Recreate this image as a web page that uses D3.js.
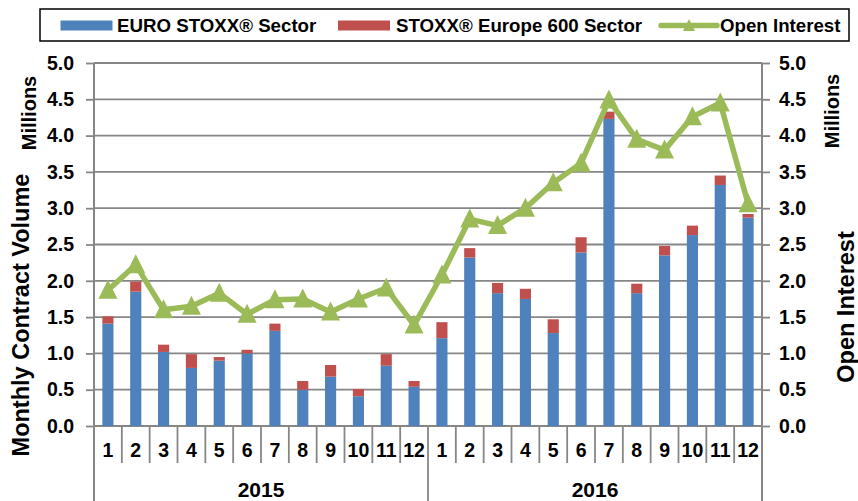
<!DOCTYPE html>
<html>
<head>
<meta charset="utf-8">
<script src="https://cdn.jsdelivr.net/npm/d3@7"></script>
<style>
  body { margin: 0; background: #fff; }
  text { font-family: "Liberation Sans", Arial, sans-serif; font-weight: bold; fill: #000; }
</style>
</head>
<body>
<svg id="chart" width="858" height="501"></svg>
<script>
const years = ["2015", "2016"];
const months = ["1","2","3","4","5","6","7","8","9","10","11","12"];
// millions of contracts
const euroStoxx = [1.41, 1.85, 1.02, 0.80, 0.90, 1.00, 1.31, 0.50, 0.68, 0.41, 0.83, 0.54,
                   1.21, 2.32, 1.83, 1.75, 1.28, 2.39, 4.23, 1.83, 2.35, 2.63, 3.32, 2.87];
const stoxx600 = [0.10, 0.14, 0.10, 0.19, 0.05, 0.05, 0.10, 0.12, 0.16, 0.10, 0.16, 0.08,
                  0.22, 0.13, 0.14, 0.14, 0.19, 0.21, 0.10, 0.13, 0.13, 0.13, 0.13, 0.05];
const openInterest = [1.87, 2.22, 1.60, 1.65, 1.83, 1.54, 1.74, 1.75, 1.57, 1.75, 1.90, 1.39,
                      2.08, 2.85, 2.76, 3.00, 3.35, 3.62, 4.49, 3.95, 3.80, 4.26, 4.45, 3.06];
const yTicks = [0, 0.5, 1, 1.5, 2, 2.5, 3, 3.5, 4, 4.5, 5];

const blue = "#4f81bd", red = "#c0504d", green = "#9bbb59", grey = "#868686";

const svg = d3.select("#chart");
const pl = 94, pr = 762, pt = 63, pb = 426;

const keys = [];
years.forEach(y => months.forEach(m => keys.push(y + "-" + m)));

const x = d3.scaleBand().domain(keys).range([pl, pr]).paddingInner(0.6).paddingOuter(0.3);
const step = (pr - pl) / keys.length;
const y = d3.scaleLinear().domain([0, 5]).range([pb, pt]);
const y2 = d3.scaleLinear().domain([0, 5]).range([pb, pt]);

// gridlines
svg.append("g")
  .selectAll("line")
  .data(yTicks.slice(1))
  .join("line")
  .attr("x1", pl).attr("x2", pr)
  .attr("y1", d => y(d)).attr("y2", d => y(d))
  .attr("stroke", grey).attr("stroke-width", 1.8);

// axes
const ga = svg.append("g")
  .attr("transform", `translate(${pl},0)`)
  .call(d3.axisLeft(y).tickValues(yTicks).tickFormat(d3.format(".1f")).tickSize(8).tickPadding(12).tickSizeOuter(0));
ga.select(".domain").remove();
ga.selectAll("line").attr("stroke", grey).attr("stroke-width", 1.8);
ga.selectAll("text").style("font-size", "19.5px");

const gb = svg.append("g")
  .attr("transform", `translate(${pr},0)`)
  .call(d3.axisRight(y2).tickValues(yTicks).tickFormat(d3.format(".1f")).tickSize(8).tickPadding(9).tickSizeOuter(0));
gb.select(".domain").remove();
gb.selectAll("line").attr("stroke", grey).attr("stroke-width", 1.8);
gb.selectAll("text").style("font-size", "19.5px");

svg.append("line").attr("x1", pl).attr("x2", pl).attr("y1", pt).attr("y2", 501)
  .attr("stroke", grey).attr("stroke-width", 2);
svg.append("line").attr("x1", pr).attr("x2", pr).attr("y1", pt).attr("y2", 501)
  .attr("stroke", grey).attr("stroke-width", 2);
svg.append("line").attr("x1", pl).attr("x2", pr).attr("y1", pb).attr("y2", pb)
  .attr("stroke", grey).attr("stroke-width", 2);

// category separators
svg.append("g")
  .selectAll("line")
  .data(keys.slice(1))
  .join("line")
  .attr("x1", d => x(d) - (step - x.bandwidth()) / 2)
  .attr("x2", d => x(d) - (step - x.bandwidth()) / 2)
  .attr("y1", pb)
  .attr("y2", (d, i) => (i + 1) % 12 === 0 ? 501 : 463)
  .attr("stroke", grey).attr("stroke-width", 1.8);

// month labels
svg.append("g")
  .selectAll("text")
  .data(keys)
  .join("text")
  .attr("x", d => x(d) + x.bandwidth() / 2)
  .attr("y", 457)
  .attr("text-anchor", "middle")
  .style("font-size", "19.5px")
  .text(d => d.split("-")[1]);

svg.append("g")
  .selectAll("text")
  .data(years)
  .join("text")
  .attr("x", (d, i) => pl + (pr - pl) / 4 * (1 + 2 * i))
  .attr("y", 497)
  .attr("text-anchor", "middle")
  .style("font-size", "21px")
  .text(d => d);

// bars
svg.append("g")
  .selectAll("rect")
  .data(keys)
  .join("rect")
  .attr("x", d => x(d))
  .attr("width", x.bandwidth())
  .attr("y", (d, i) => y(euroStoxx[i]))
  .attr("height", (d, i) => y(0) - y(euroStoxx[i]))
  .attr("fill", blue);

svg.append("g")
  .selectAll("rect")
  .data(keys)
  .join("rect")
  .attr("x", d => x(d))
  .attr("width", x.bandwidth())
  .attr("y", (d, i) => y(euroStoxx[i] + stoxx600[i]))
  .attr("height", (d, i) => y(euroStoxx[i]) - y(euroStoxx[i] + stoxx600[i]))
  .attr("fill", red);

// open interest line
const tri = "M0,-10.5L9.5,8.5L-9.5,8.5Z";
const line = d3.line()
  .x((d, i) => x(keys[i]) + x.bandwidth() / 2)
  .y(d => y2(d));

svg.append("path")
  .datum(openInterest)
  .attr("d", line)
  .attr("fill", "none")
  .attr("stroke", green)
  .attr("stroke-width", 5.5)
  .attr("stroke-linejoin", "round");

svg.append("g")
  .selectAll("path")
  .data(openInterest)
  .join("path")
  .attr("transform", (d, i) => `translate(${x(keys[i]) + x.bandwidth() / 2},${y2(d)})`)
  .attr("d", tri)
  .attr("fill", green);

// axis titles
svg.append("text")
  .attr("transform", "translate(36,113) rotate(-90)")
  .attr("text-anchor", "middle")
  .style("font-size", "20px")
  .text("Millions");
svg.append("text")
  .attr("transform", "translate(29,315) rotate(-90)")
  .attr("text-anchor", "middle")
  .style("font-size", "23.5px")
  .text("Monthly Contract Volume");
svg.append("text")
  .attr("transform", "translate(839,111) rotate(-90)")
  .attr("text-anchor", "middle")
  .style("font-size", "20px")
  .text("Millions");
svg.append("text")
  .attr("transform", "translate(854,307) rotate(-90)")
  .attr("text-anchor", "middle")
  .style("font-size", "23.5px")
  .text("Open Interest");

// legend
const lg = svg.append("g");
lg.append("rect").attr("x", 40).attr("y", 9).attr("width", 809).attr("height", 32)
  .attr("fill", "#fff").attr("stroke", "#000").attr("stroke-width", 1.5);
lg.append("rect").attr("x", 60.5).attr("y", 20.5).attr("width", 52).attr("height", 10).attr("fill", blue);
lg.append("text").attr("x", 117).attr("y", 32).style("font-size", "18.7px").text("EURO STOXX® Sector");
lg.append("rect").attr("x", 338).attr("y", 20.5).attr("width", 52).attr("height", 10).attr("fill", red);
lg.append("text").attr("x", 396).attr("y", 32).style("font-size", "18.7px").text("STOXX® Europe 600 Sector");
lg.append("line").attr("x1", 661).attr("x2", 717).attr("y1", 25.5).attr("y2", 25.5)
  .attr("stroke", green).attr("stroke-width", 5.5).attr("stroke-linecap", "round");
lg.append("path").attr("transform", "translate(689,25)").attr("d", "M0,-6L6,6L-6,6Z").attr("fill", green);
lg.append("text").attr("x", 720).attr("y", 32).style("font-size", "18.7px").text("Open Interest");
</script>
</body>
</html>
